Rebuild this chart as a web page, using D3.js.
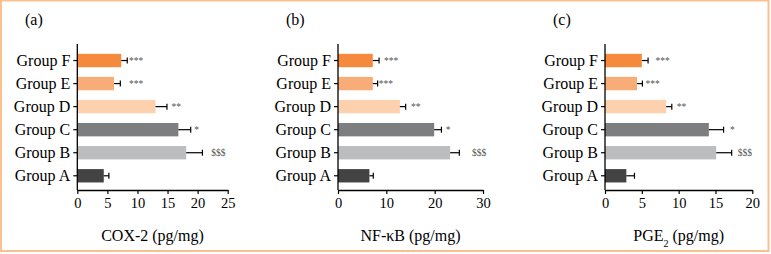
<!DOCTYPE html>
<html><head><meta charset="utf-8">
<script src="https://cdn.jsdelivr.net/npm/d3@7"></script>
<style>html,body{margin:0;padding:0;background:#fff;}svg{display:block;}</style>
</head><body>
<svg id="chart" width="771" height="254"></svg>
<script>
// ---- data ----
const groups = ["Group A", "Group B", "Group C", "Group D", "Group E", "Group F"];
const barColors = ["#434343", "#bcbdbf", "#7d7e80", "#fdd0ae", "#f8ac78", "#f58a3c"];
const sigLabels = ["", "$$$", "*", "**", "***", "***"];

const cox2 = [4.4, 18.1, 16.8, 13.0, 6.1, 7.3];
const cox2Err = [0.85, 2.7, 2.05, 1.9, 1.05, 1.0];
const cox2Sig = [null, 23.45, 19.85, 16.45, 9.76, 9.76];
const cox2Ticks = [0, 5, 10, 15, 20, 25];

const nfkb = [6.5, 23.2, 19.9, 12.8, 7.2, 7.2];
const nfkbErr = [0.8, 1.9, 1.5, 1.2, 1.0, 1.3];
const nfkbSig = [null, 29.2, 22.8, 16.1, 9.9, 11.0];
const nfkbTicks = [0, 10, 20, 30];

const pge2 = [2.9, 15.1, 14.1, 8.3, 4.35, 5.0];
const pge2Err = [1.1, 2.1, 2.0, 0.77, 0.73, 0.85];
const pge2Sig = [null, 19.0, 17.3, 10.4, 6.48, 7.84];
const pge2Ticks = [0, 5, 10, 15, 20];

const panelLetters = ["(a)", "(b)", "(c)"];

// ---- drawing ----
const svg = d3.select("#chart");
const FONT = "'Liberation Serif', 'Times New Roman', serif";

svg.append("rect").attr("x", 1).attr("y", 0.5).attr("width", 767.5).attr("height", 250.5)
  .attr("fill", "#fff").attr("stroke", "#fbc08e").attr("stroke-width", 2);

const panels = [
  {vals: cox2, err: cox2Err, sig: cox2Sig, ticks: cox2Ticks, x0: 77.3, x1: 227.7, title: [["COX-2 (pg/mg)", null]], lx: 25},
  {vals: nfkb, err: nfkbErr, sig: nfkbSig, ticks: nfkbTicks, x0: 338, x1: 483, title: [["NF-\u03BAB (pg/mg)", null]], lx: 286},
  {vals: pge2, err: pge2Err, sig: pge2Sig, ticks: pge2Ticks, x0: 605, x1: 752.3, title: [["PGE", null], ["2", "sub"], [" (pg/mg)", null]], lx: 553}
];

const axisTop = 44, axisBottom = 190;
const y = d3.scaleBand().domain(groups).range([187.3, 49]).paddingInner(0.42).paddingOuter(0.21);

panels.forEach((p, pi) => {
  const x = d3.scaleLinear().domain([0, p.ticks[p.ticks.length - 1]]).range([p.x0, p.x1]);
  const g = svg.append("g");

  // bars
  g.selectAll("rect.bar").data(groups).join("rect")
    .attr("x", x(0)).attr("y", d => y(d))
    .attr("width", (d, i) => x(p.vals[i]) - x(0))
    .attr("height", y.bandwidth())
    .attr("fill", (d, i) => barColors[i]);

  // error bars
  groups.forEach((d, i) => {
    const cy = y(d) + y.bandwidth() / 2;
    const xe = x(p.vals[i] + p.err[i]);
    g.append("line").attr("x1", x(p.vals[i])).attr("x2", xe).attr("y1", cy).attr("y2", cy)
      .attr("stroke", "#000").attr("stroke-width", 1.2);
    g.append("line").attr("x1", xe).attr("x2", xe).attr("y1", cy - 3).attr("y2", cy + 3)
      .attr("stroke", "#000").attr("stroke-width", 1.2);
    if (sigLabels[i]) {
      g.append("text").attr("x", x(p.sig[i])).attr("y", cy).attr("dy", "0.35em")
        .attr("text-anchor", "middle").attr("font-family", FONT).attr("font-size", 9.5)
        .attr("fill", "#555").text(sigLabels[i]);
    }
  });

  // x axis
  const xAxis = g.append("g").attr("transform", `translate(0,${axisBottom})`)
    .call(d3.axisBottom(x).tickValues(p.ticks).tickSize(4).tickPadding(4).tickSizeOuter(0));
  xAxis.select(".domain").attr("stroke", "#000").attr("stroke-width", 1.3);
  xAxis.selectAll(".tick line").attr("stroke", "#000").attr("stroke-width", 1.2);
  xAxis.selectAll(".tick text").attr("font-family", FONT).attr("font-size", 14.5).attr("fill", "#000");

  // y axis
  const yAxis = g.append("g").attr("transform", `translate(${p.x0},0)`)
    .call(d3.axisLeft(y).tickSize(4).tickPadding(3).tickSizeOuter(0));
  yAxis.select(".domain").attr("d", `M0,${axisTop}V${axisBottom}`).attr("stroke", "#000").attr("stroke-width", 1.3);
  yAxis.selectAll(".tick line").attr("stroke", "#000").attr("stroke-width", 1.2);
  yAxis.selectAll(".tick text").attr("font-family", FONT).attr("font-size", 16).attr("fill", "#000");

  // axis title
  const t = g.append("text").attr("x", (p.x0 + p.x1) / 2).attr("y", 241)
    .attr("text-anchor", "middle").attr("font-family", FONT).attr("font-size", 16).attr("fill", "#000");
  p.title.forEach(([s, kind]) => {
    const ts = t.append("tspan").text(s);
    if (kind === "sub") ts.attr("font-size", 10).attr("baseline-shift", "sub");
  });

  // panel letter
  g.append("text").attr("x", p.lx).attr("y", 25).attr("font-family", FONT).attr("font-size", 16)
    .attr("fill", "#000").text(panelLetters[pi]);
});
</script>
</body></html>
